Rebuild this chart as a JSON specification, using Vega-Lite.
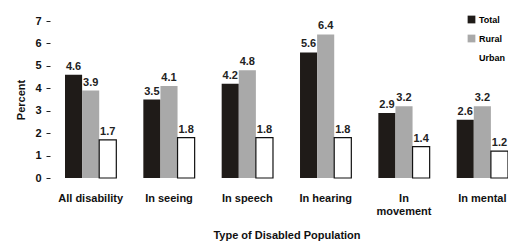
{
  "$schema": "https://vega.github.io/schema/vega-lite/v6.json",
  "autosize": "none",
  "width": 443,
  "height": 157,
  "padding": {"left": 65, "top": 21, "right": 0, "bottom": 68},
  "background": "white",
  "config": {
    "view": {"stroke": null},
    "font": "Liberation Sans",
    "axis": {"labelFont": "Liberation Sans", "titleFont": "Liberation Sans", "labelColor": "#111", "titleColor": "#111", "grid": false}
  },
  "data": {
    "values": [
      {"Type": "All disability", "Area": "Total", "Percent": 4.6},
      {"Type": "All disability", "Area": "Rural", "Percent": 3.9},
      {"Type": "All disability", "Area": "Urban", "Percent": 1.7},
      {"Type": "In seeing", "Area": "Total", "Percent": 3.5},
      {"Type": "In seeing", "Area": "Rural", "Percent": 4.1},
      {"Type": "In seeing", "Area": "Urban", "Percent": 1.8},
      {"Type": "In speech", "Area": "Total", "Percent": 4.2},
      {"Type": "In speech", "Area": "Rural", "Percent": 4.8},
      {"Type": "In speech", "Area": "Urban", "Percent": 1.8},
      {"Type": "In hearing", "Area": "Total", "Percent": 5.6},
      {"Type": "In hearing", "Area": "Rural", "Percent": 6.4},
      {"Type": "In hearing", "Area": "Urban", "Percent": 1.8},
      {"Type": "In movement", "Area": "Total", "Percent": 2.9},
      {"Type": "In movement", "Area": "Rural", "Percent": 3.2},
      {"Type": "In movement", "Area": "Urban", "Percent": 1.4},
      {"Type": "In mental", "Area": "Total", "Percent": 2.6},
      {"Type": "In mental", "Area": "Rural", "Percent": 3.2},
      {"Type": "In mental", "Area": "Urban", "Percent": 1.2}
    ]
  },
  "encoding": {
    "x": {
      "field": "Type", "type": "nominal", "sort": null,
      "scale": {"paddingInner": 0.345, "paddingOuter": 0},
      "axis": {
        "title": "Type of Disabled Population", "titleFontSize": 11, "titleFontWeight": "bold", "titlePadding": 13,
        "labelAngle": 0, "labelFontSize": 11, "labelFontWeight": "bold", "labelPadding": 14,
        "domain": false, "ticks": false,
        "labelExpr": "datum.value == 'In movement' ? ['In', 'movement'] : datum.value"
      }
    },
    "xOffset": {"field": "Area", "type": "nominal", "sort": ["Total", "Rural", "Urban"], "scale": {"paddingInner": 0, "paddingOuter": 0}},
    "y": {
      "field": "Percent", "type": "quantitative",
      "scale": {"domain": [0, 7], "nice": false},
      "axis": {
        "title": "Percent", "titleFontSize": 11, "titleFontWeight": "bold", "titlePadding": 8,
        "values": [0, 1, 2, 3, 4, 5, 6, 7], "labelFontSize": 11, "labelFontWeight": "bold",
        "domain": false, "tickSize": 4, "tickColor": "#222", "labelPadding": 5, "offset": 15
      }
    }
  },
  "layer": [
    {
      "mark": {"type": "bar", "strokeWidth": 1.2},
      "encoding": {
        "color": {
          "field": "Area", "type": "nominal", "sort": ["Total", "Rural", "Urban"],
          "scale": {"domain": ["Total", "Rural", "Urban"], "range": ["#1f1b18", "#a9a9a9", "#ffffff"]},
          "legend": {
            "title": null, "orient": "none", "legendX": 402, "legendY": -6,
            "symbolType": "square", "symbolSize": 60, "symbolStrokeWidth": 0,
            "labelFontSize": 9, "labelFontWeight": "bold", "rowPadding": 9, "labelOffset": 3
          }
        },
        "stroke": {"condition": {"test": "datum.Area === 'Urban'", "value": "#111"}, "value": null}
      }
    },
    {
      "mark": {"type": "text", "dy": -8, "fontSize": 11, "fontWeight": "bold", "color": "#222"},
      "encoding": {"text": {"field": "Percent", "type": "quantitative", "format": ".1f"}}
    }
  ]
}
